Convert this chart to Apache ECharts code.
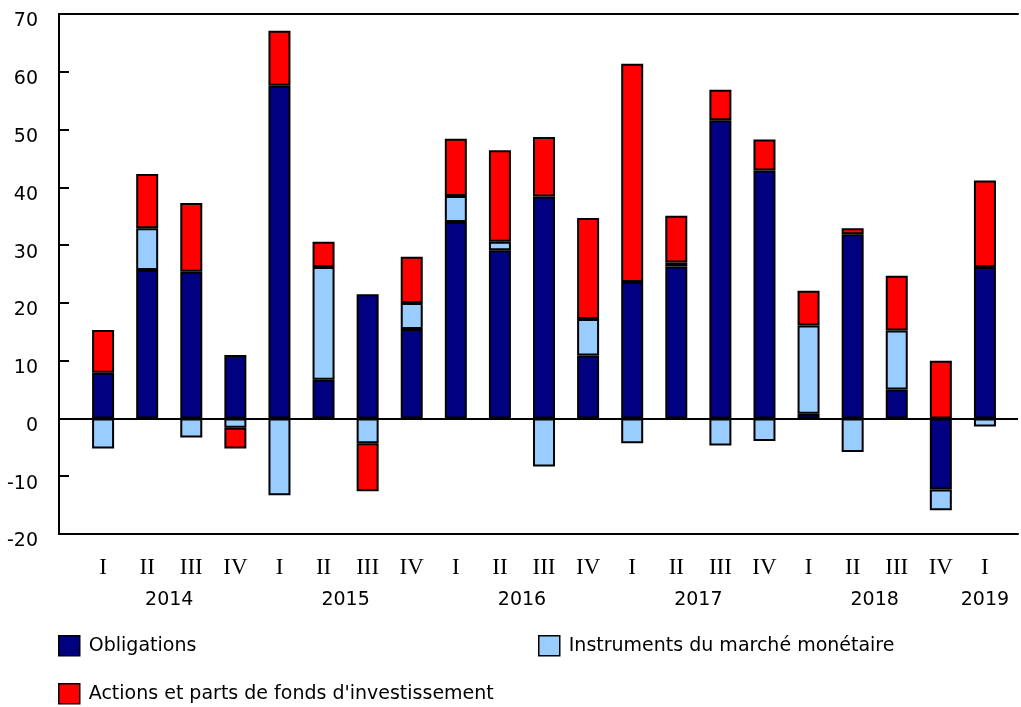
<!DOCTYPE html>
<html>
<head>
<meta charset="utf-8">
<script src="https://cdn.jsdelivr.net/npm/echarts@6/dist/echarts.min.js"></script>
<style>
    html, body { margin: 0; padding: 0; background: #fff; }
    #chart { width: 1021px; height: 707px; }
</style>
</head>
<body>
<div id="chart"></div>
<script>
const quarters = ['I', 'II', 'III', 'IV', 'I', 'II', 'III', 'IV', 'I', 'II', 'III', 'IV',
    'I', 'II', 'III', 'IV', 'I', 'II', 'III', 'IV', 'I'];
const quarterYears = ['2014', '2014', '2014', '2014', '2015', '2015', '2015', '2015',
    '2016', '2016', '2016', '2016', '2017', '2017', '2017', '2017',
    '2018', '2018', '2018', '2018', '2019'];

const obligations = [7.9, 25.7, 25.4, 11.0, 57.6, 6.7, 21.5, 15.5, 34.0, 29.1, 38.4,
    10.9, 23.6, 26.3, 51.6, 42.9, 0.8, 31.9, 5.0, -12.3, 26.2];
const instruments = [-5.2, 7.2, -3.3, -1.6, -13.3, 19.5, -4.3, 4.5, 4.5, 1.5, -8.3,
    6.3, -4.3, 0.7, -4.7, -3.9, 15.3, -5.8, 10.2, -3.6, -1.4];
const actions = [7.4, 9.4, 11.9, -3.6, 9.5, 4.4, -8.3, 8.0, 9.9, 15.8, 10.3,
    17.5, 37.8, 8.1, 5.3, 5.4, 6.0, 1.0, 9.5, 10.0, 15.0];

const NAME_OBLIGATIONS = 'Obligations';
const NAME_INSTRUMENTS = 'Instruments du marché monétaire';
const NAME_ACTIONS = "Actions et parts de fonds d'investissement";

const FONT = 'DejaVu Sans';
const FONT_SIZE = 19;
const X_MIN = -1;
const X_MAX = 20.75;

// year label sits in the middle of its quarters
let year_members = {};
quarterYears.forEach(function (y, i) {
    if (!year_members[y]) year_members[y] = [];
    year_members[y].push(i);
});
let year_label_at = {};
Object.keys(year_members).forEach(function (y) {
    let idx = year_members[y];
    year_label_at[(idx[0] + idx[idx.length - 1]) / 2] = y;
});

/* Value first, so the stack is done on the value dimension. */
function pairs(values) {
    return values.map(function (v, i) { return [v, i]; });
}

function barSeries(name, values, color) {
    return {
        name: name,
        type: 'bar',
        stack: 'total',
        barWidth: 22,
        encode: { x: 1, y: 0 },
        data: pairs(values),
        itemStyle: {
            color: color,
            borderColor: '#000',
            borderWidth: 2
        }
    };
}

let chart = echarts.init(document.getElementById('chart'));

let series = [
    barSeries(NAME_OBLIGATIONS, obligations, '#000080'),
    barSeries(NAME_INSTRUMENTS, instruments, '#99ccff'),
    barSeries(NAME_ACTIONS, actions, '#ff0000')
];

/* Zero line. */
series[0].markLine = {
    silent: true,
    symbol: 'none',
    label: { show: false },
    lineStyle: { color: '#000', width: 2, type: 'solid' },
    data: [{ yAxis: 0 }]
};

let legend_base = {
    icon: 'rect',
    padding: 0,
    itemWidth: 21,
    itemHeight: 20,
    itemStyle: { borderColor: '#000', borderWidth: 1.5 },
    textStyle: { fontFamily: FONT, fontSize: FONT_SIZE, color: '#000', padding: [0, 0, 0, 4] }
};

let options = {
    animation: false,
    textStyle: { fontFamily: FONT },
    grid: {
        left: 59,
        right: 2,
        top: 14,
        bottom: 173
    },
    legend: [
        Object.assign({ data: [NAME_OBLIGATIONS], left: 58, top: 635 }, legend_base),
        Object.assign({ data: [NAME_INSTRUMENTS], left: 538, top: 635 }, legend_base),
        Object.assign({ data: [NAME_ACTIONS], left: 58, top: 683 }, legend_base)
    ],
    xAxis: [
        {
            type: 'value',
            position: 'bottom',
            min: X_MIN,
            max: X_MAX,
            interval: 1,
            axisLine: { onZero: false, lineStyle: { color: '#000', width: 2 } },
            axisTick: { show: false },
            splitLine: { show: false },
            axisLabel: {
                margin: 22,
                color: '#000',
                fontFamily: 'Liberation Serif',
                fontSize: 23,
                formatter: function (v) {
                    return Number.isInteger(v) && v >= 0 && v < quarters.length ? quarters[v] : '';
                }
            }
        },
        {
            type: 'value',
            position: 'bottom',
            min: X_MIN,
            max: X_MAX,
            interval: 0.5,
            axisLine: { show: false },
            axisTick: { show: false },
            splitLine: { show: false },
            axisLabel: {
                margin: 57,
                color: '#000',
                fontSize: FONT_SIZE,
                formatter: function (v) {
                    return year_label_at[v] || '';
                }
            }
        },
        {
            type: 'value',
            position: 'top',
            min: X_MIN,
            max: X_MAX,
            axisLine: { onZero: false, lineStyle: { color: '#000', width: 2 } },
            axisTick: { show: false },
            axisLabel: { show: false },
            splitLine: { show: false }
        }
    ],
    yAxis: {
        type: 'value',
        min: -20,
        max: 70,
        interval: 10,
        axisLine: { show: true, onZero: false, lineStyle: { color: '#000', width: 2 } },
        axisTick: { show: true, inside: true, length: 10, lineStyle: { color: '#000', width: 2 } },
        splitLine: { show: false },
        axisLabel: {
            margin: 21,
            color: '#000',
            formatter: '{v|{value}}',
            rich: {
                v: { fontFamily: FONT, fontSize: FONT_SIZE, color: '#000', padding: [15, 0, 0, 0] }
            }
        }
    },
    series: series
};

chart.setOption(options);

window.addEventListener('resize', function () {
    chart.resize();
});
</script>
</body>
</html>
